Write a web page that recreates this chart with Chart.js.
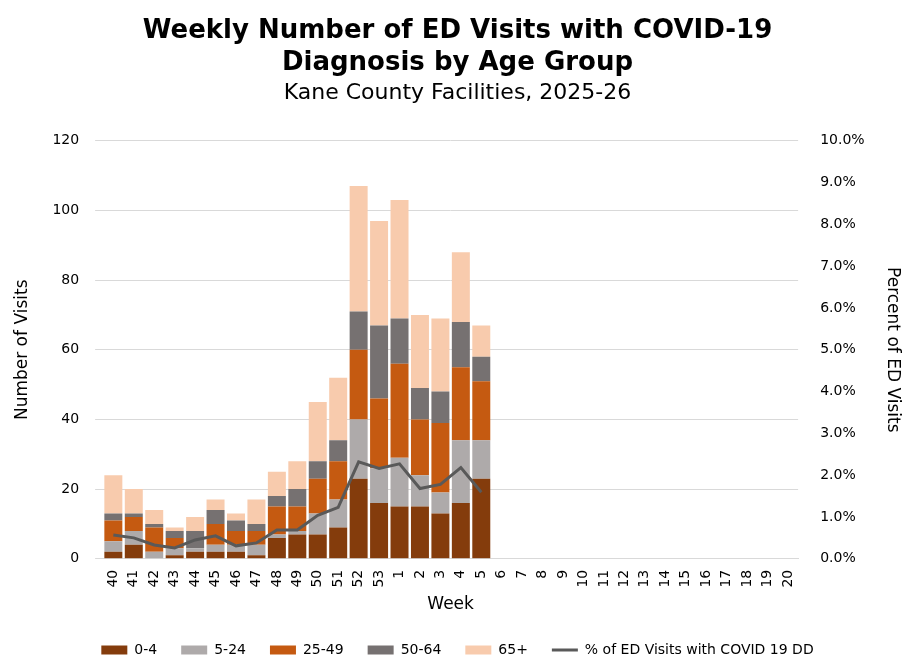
<!DOCTYPE html>
<html><head><meta charset="utf-8">
<script src="https://cdn.jsdelivr.net/npm/chart.js@4"></script>
<style>html,body{margin:0;background:#fff}#wrap{width:919px;height:671px}</style>
</head><body><div id="wrap"><canvas id="c"></canvas></div>
<script>
const weeks = ['40','41','42','43','44','45','46','47','48','49','50','51','52','53','1','2','3','4','5','6','7','8','9','10','11','12','13','14','15','16','17','18','19','20'];
const age0to4   = [2,4,0,1,2,2,2,1,6,7,7,9,23,16,15,15,13,16,23];
const age5to24  = [3,4,2,2,1,2,2,3,1,1,6,8,17,10,14,9,6,18,11];
const age25to49 = [6,4,7,3,0,6,4,4,8,7,10,11,20,20,27,16,20,21,17];
const age50to64 = [2,1,1,2,5,4,3,2,3,5,5,6,11,21,13,9,9,13,7];
const age65plus = [11,7,4,1,4,3,2,7,7,8,17,18,36,30,34,21,21,20,9];
const pctCovid  = [0.57,0.50,0.33,0.26,0.45,0.55,0.31,0.38,0.69,0.69,1.04,1.23,2.32,2.16,2.27,1.68,1.78,2.18,1.59];

const font = 'Verdana, "DejaVu Sans", sans-serif';
Chart.defaults.font.family = font;
Chart.defaults.color = '#000';

const bar = (label, data, color) => ({ type: 'bar', label, data, backgroundColor: color, yAxisID: 'y', stack: 's', barPercentage: 0.88, categoryPercentage: 1, order: 2 });

new Chart(document.getElementById('c'), {
    data: {
        labels: weeks,
        datasets: [
            bar('0-4', age0to4, '#843C0C'),
            bar('5-24', age5to24, '#AEAAAA'),
            bar('25-49', age25to49, '#C55A11'),
            bar('50-64', age50to64, '#767171'),
            bar('65+', age65plus, '#F8CBAD'),
            { type: 'line', label: '% of ED Visits with COVID 19 DD', data: pctCovid, yAxisID: 'y1',
              borderColor: '#595959', backgroundColor: '#595959', borderWidth: 3, pointRadius: 0, tension: 0, order: 1 }
        ]
    },
    options: {
        responsive: true, maintainAspectRatio: false, animation: false,
        layout: { padding: { left: 8, right: 12, top: 10, bottom: 4 } },
        plugins: {
            title: { display: true, text: ['Weekly Number of ED Visits with COVID-19', 'Diagnosis by Age Group'],
                     font: { size: 26, weight: 'bold' }, padding: { top: 6, bottom: 2 }, lineHeight: 1.2 },
            subtitle: { display: true, text: 'Kane County Facilities, 2025-26', font: { size: 22 }, padding: { bottom: 34 } },
            legend: { position: 'bottom', labels: { usePointStyle: true, pointStyleWidth: 26, boxHeight: 9, font: { size: 14 }, padding: 24,
                      sort: (a, b) => a.datasetIndex - b.datasetIndex,
                      generateLabels: chart => Chart.defaults.plugins.legend.labels.generateLabels(chart).map(l => {
                          l.pointStyle = l.datasetIndex === 5 ? 'line' : 'rect';
                          if (l.datasetIndex === 5) { l.lineWidth = 3; l.strokeStyle = '#595959'; }
                          return l; }) } },
            tooltip: { enabled: false }
        },
        scales: {
            x: { stacked: true, grid: { display: false }, border: { color: '#d9d9d9' },
                 ticks: { maxRotation: 90, minRotation: 90, autoSkip: false, font: { size: 14 } },
                 title: { display: true, text: 'Week', font: { size: 17 }, padding: { top: 4 } } },
            y: { stacked: true, min: 0, max: 120, position: 'left',
                 ticks: { stepSize: 20, font: { size: 14 }, padding: 16 }, grid: { color: '#d9d9d9' }, border: { display: false },
                 title: { display: true, text: 'Number of Visits', font: { size: 17 } } },
            y1: { min: 0, max: 10, position: 'right', grid: { display: false }, border: { display: false },
                  ticks: { stepSize: 1, font: { size: 14 }, padding: 14, callback: v => v.toFixed(1) + '%' },
                  title: { display: true, text: 'Percent of ED Visits', font: { size: 17 } } }
        }
    }
});
</script></body></html>
